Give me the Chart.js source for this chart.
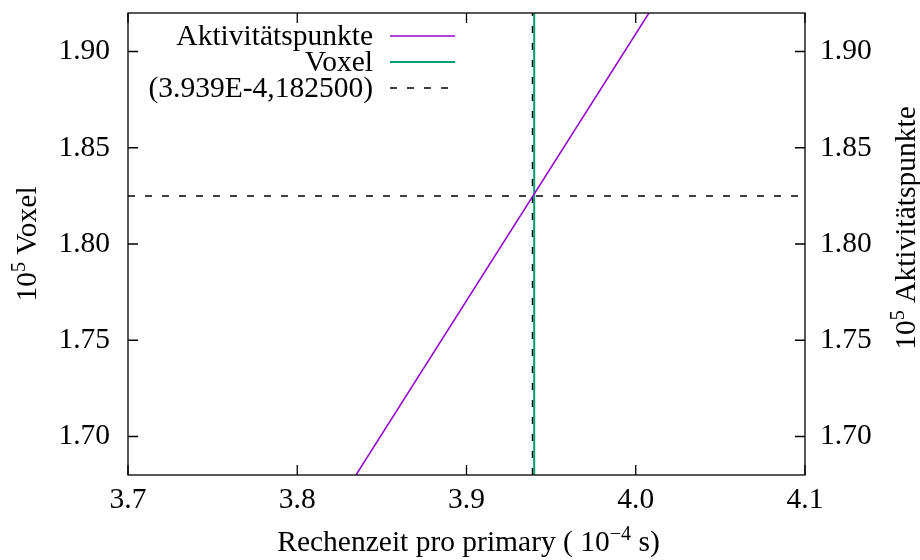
<!DOCTYPE html>
<html>
<head>
<meta charset="utf-8">
<script src="https://cdn.jsdelivr.net/npm/chart.js@4.4.1/dist/chart.umd.min.js"></script>
<style>
  html, body { margin: 0; padding: 0; background: #ffffff; }
  #wrap { width: 920px; height: 560px; }
  canvas { display: block; }
</style>
</head>
<body>
<div id="wrap"><canvas id="c" width="920" height="560"></canvas></div>
<script>
// ---- data ----
const xTicks = [3.7, 3.8, 3.9, 4.0, 4.1];
const yTicks = [1.70, 1.75, 1.80, 1.85, 1.90];
const xRange = [3.7, 4.1];
const yRange = [1.68, 1.92];

const seriesNames = ['Aktivitätspunkte', 'Voxel', '(3.939E-4,182500)'];

const aktivX = [3.8347, 4.0078];
const aktivY = [1.68, 1.92];

const voxelX = [3.940, 3.940];
const voxelY = [1.68, 1.92];

const markX = [3.939, 3.939, null, 3.7, 4.1];
const markY = [1.68, 1.92, null, 1.825, 1.825];

const xTitle = [{t: 'Rechenzeit pro primary ( 10'}, {t: '\u22124', sup: true}, {t: ' s)'}];
const yTitle = [{t: '10'}, {t: '5', sup: true}, {t: ' Voxel'}];
const y2Title = [{t: '10'}, {t: '5', sup: true}, {t: ' Aktivitätspunkte'}];

// ---- helpers ----
const FONT = '"Liberation Serif", "Times New Roman", serif';
const FS = 29.5;
const SUP = 20;

function pts(xs, ys) {
  return xs.map((x, i) => ({x: x, y: (x === null ? null : ys[i])}));
}

function richWidth(ctx, parts) {
  let w = 0;
  parts.forEach(p => {
    ctx.font = (p.sup ? SUP : FS) + 'px ' + FONT;
    w += ctx.measureText(p.t).width;
  });
  return w;
}
function drawRich(ctx, parts, x, y) { // x = center, y = baseline
  const w = richWidth(ctx, parts);
  let cx = x - w / 2;
  ctx.textAlign = 'left';
  ctx.textBaseline = 'alphabetic';
  ctx.fillStyle = '#000';
  parts.forEach(p => {
    ctx.font = (p.sup ? SUP : FS) + 'px ' + FONT;
    ctx.fillText(p.t, cx, p.sup ? y - 11 : y);
    cx += ctx.measureText(p.t).width;
  });
}

const colors = ['#9400d3', '#009e73', '#000000'];

const decor = {
  id: 'decor',
  afterDraw(chart) {
    const ctx = chart.ctx;
    const a = chart.chartArea;
    const xs = chart.scales.x, ys = chart.scales.y;
    ctx.save();
    // border
    ctx.strokeStyle = '#000';
    ctx.lineWidth = 1.3;
    ctx.strokeRect(a.left, a.top, a.right - a.left, a.bottom - a.top);
    // inward ticks
    const TL = 10;
    ctx.beginPath();
    xTicks.forEach(v => {
      const px = xs.getPixelForValue(v);
      ctx.moveTo(px, a.bottom); ctx.lineTo(px, a.bottom - TL);
      ctx.moveTo(px, a.top); ctx.lineTo(px, a.top + TL);
    });
    yTicks.forEach(v => {
      const py = ys.getPixelForValue(v);
      ctx.moveTo(a.left, py); ctx.lineTo(a.left + TL, py);
      ctx.moveTo(a.right, py); ctx.lineTo(a.right - TL, py);
    });
    ctx.stroke();

    // axis titles
    drawRich(ctx, xTitle, (a.left + a.right) / 2 + 2, 551);
    ctx.save();
    ctx.translate(36, 244);
    ctx.rotate(-Math.PI / 2);
    drawRich(ctx, yTitle, 0, 0);
    ctx.restore();
    ctx.save();
    ctx.translate(915, 228);
    ctx.rotate(-Math.PI / 2);
    drawRich(ctx, y2Title, 0, 0);
    ctx.restore();

    // legend
    const lineY = [36, 62, 88];
    const textRight = 373, s0 = 390, s1 = 455;
    seriesNames.forEach((name, i) => {
      ctx.font = FS + 'px ' + FONT;
      ctx.fillStyle = '#000';
      ctx.textAlign = 'right';
      ctx.textBaseline = 'alphabetic';
      ctx.fillText(name, textRight, lineY[i] + 9);
      ctx.beginPath();
      ctx.strokeStyle = colors[i];
      ctx.lineWidth = i === 1 ? 2 : 1.5;
      ctx.setLineDash(i === 2 ? [7, 10] : []);
      ctx.moveTo(s0, lineY[i]); ctx.lineTo(s1, lineY[i]);
      ctx.stroke();
      ctx.setLineDash([]);
    });
    ctx.restore();
  }
};

const tickFont = {family: FONT, size: FS};
function noPad(s) { s.paddingTop = 0; s.paddingBottom = 0; s.paddingLeft = 0; s.paddingRight = 0; }

new Chart(document.getElementById('c'), {
  type: 'scatter',
  data: {
    datasets: [
      {label: seriesNames[0], data: pts(aktivX, aktivY), showLine: true, borderColor: colors[0],
       borderWidth: 1.5, pointRadius: 0, yAxisID: 'y2'},
      {label: seriesNames[1], data: pts(voxelX, voxelY), showLine: true, borderColor: colors[1],
       borderWidth: 2, pointRadius: 0, yAxisID: 'y'},
      {label: seriesNames[2], data: pts(markX, markY), showLine: true, borderColor: colors[2],
       borderWidth: 1.5, borderDash: [7, 10], pointRadius: 0, spanGaps: false, yAxisID: 'y'}
    ]
  },
  options: {
    responsive: false,
    animation: false,
    devicePixelRatio: 1,
    layout: {padding: {top: 13, left: 0, right: 0, bottom: 0}},
    plugins: {legend: {display: false}, tooltip: {enabled: false}},
    scales: {
      x: {
        type: 'linear', position: 'bottom', min: xRange[0], max: xRange[1],
        afterBuildTicks: s => { s.ticks = xTicks.map(v => ({value: v})); },
        afterFit: s => { s.height = 85; noPad(s); },
        grid: {display: false, drawTicks: false},
        border: {display: false},
        ticks: {font: tickFont, color: '#000', padding: 8, maxRotation: 0, autoSkip: false,
                callback: v => Number(v).toFixed(1)}
      },
      y: {
        type: 'linear', position: 'left', min: yRange[0], max: yRange[1],
        afterBuildTicks: s => { s.ticks = yTicks.map(v => ({value: v})); },
        afterFit: s => { s.width = 128; noPad(s); },
        grid: {display: false, drawTicks: false},
        border: {display: false},
        ticks: {font: tickFont, color: '#000', padding: 18, autoSkip: false,
                callback: v => Number(v).toFixed(2)}
      },
      y2: {
        type: 'linear', position: 'right', min: yRange[0], max: yRange[1],
        afterBuildTicks: s => { s.ticks = yTicks.map(v => ({value: v})); },
        afterFit: s => { s.width = 115; noPad(s); },
        grid: {display: false, drawTicks: false},
        border: {display: false},
        ticks: {font: tickFont, color: '#000', padding: 15, autoSkip: false,
                callback: v => Number(v).toFixed(2)}
      }
    }
  },
  plugins: [decor]
});
</script>
</body>
</html>
